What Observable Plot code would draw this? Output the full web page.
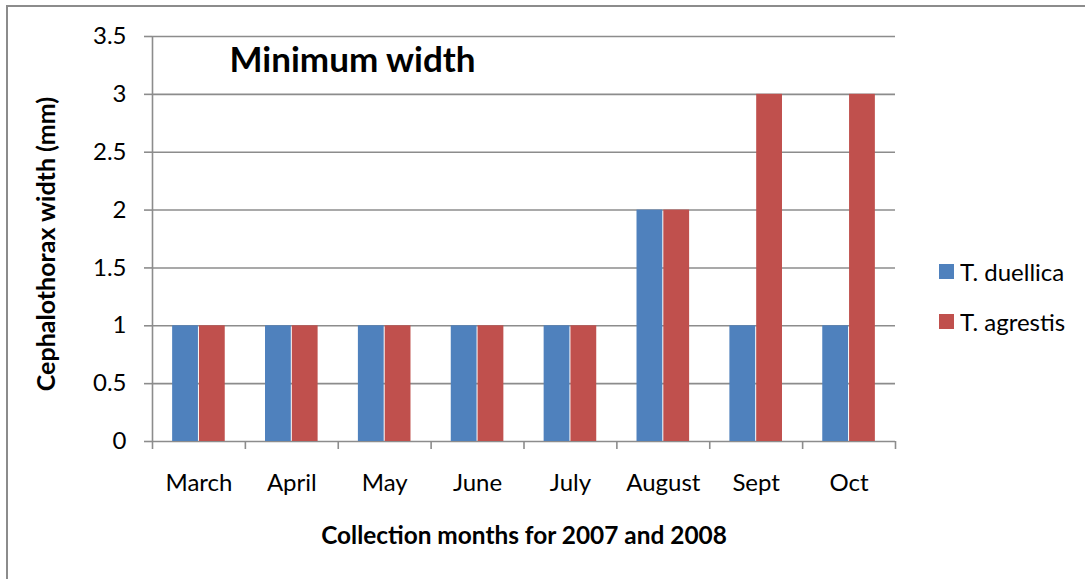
<!DOCTYPE html>
<html>
<head>
<meta charset="utf-8">
<script src="https://cdn.jsdelivr.net/npm/d3@7"></script>
<script src="https://cdn.jsdelivr.net/npm/@observablehq/plot@0.6"></script>
<style>
  html, body { margin: 0; padding: 0; background: #fff; }
  #wrap { position: relative; width: 1085px; height: 579px; overflow: hidden; font-family: Lato, "Open Sans", sans-serif; }
  #border { position: absolute; left: 6px; top: 5px; width: 1200px; height: 700px; border-left: 2px solid #8c8c8c; border-top: 2px solid #8c8c8c; }
  #chart { position: absolute; left: 0; top: 0; }
  #legend { position: absolute; left: 939px; top: 257px; }
</style>
</head>
<body>
<div id="wrap"><div id="border"></div><div id="chart"></div><div id="legend"></div></div>
<script>
const months = ["March", "April", "May", "June", "July", "August", "Sept", "Oct"];
const series = ["T. duellica", "T. agrestis"];
const duellica = [1, 1, 1, 1, 1, 2, 1, 1];
const agrestis = [1, 1, 1, 1, 1, 2, 3, 3];
const colors = ["#4F81BD", "#C0504D"];
const yTicks = [0, 0.5, 1, 1.5, 2, 2.5, 3, 3.5];
const title = "Minimum width";
const yLabel = "Cephalothorax width (mm)";
const xLabel = "Collection months for 2007 and 2008";

const data = months.flatMap((m, i) => [
  {month: m, series: series[0], value: duellica[i]},
  {month: m, series: series[1], value: agrestis[i]}
]);

const W = 1085, H = 579, ML = 152, MR = 190, MT = 36, MB = 138;
const step = (W - ML - MR) / months.length;
const barW = 26.3;
const font = "Lato, 'Open Sans', sans-serif";
const gridColor = "#8c8c8c";

const plot = Plot.plot({
  width: W, height: H,
  marginLeft: ML, marginRight: MR, marginTop: MT, marginBottom: MB,
  style: {fontFamily: font, fontSize: "24px", color: "#000", background: "transparent"},
  x: {domain: months, padding: 0, round: false, label: null},
  y: {domain: [0, 3.5], label: null},
  color: {domain: series, range: colors},
  marks: [
    Plot.ruleY(yTicks, {y: d => d, stroke: gridColor, strokeWidth: 1.6}),
    Plot.barY(data.filter(d => d.series === series[0]), {
      x: "month", y: "value", fill: "series",
      insetLeft: step / 2 - barW, insetRight: step / 2 + 0.5
    }),
    Plot.barY(data.filter(d => d.series === series[1]), {
      x: "month", y: "value", fill: "series",
      insetLeft: step / 2 + 0.5, insetRight: step / 2 - barW
    }),
    Plot.axisY({ticks: yTicks, tickFormat: d => String(d), tickSize: 8, tickPadding: 18, stroke: gridColor, strokeWidth: 1.6, fontSize: 24, label: null}),
    Plot.ruleX([0], {x: null, stroke: gridColor, strokeWidth: 1.6, frameAnchor: "left", dx: -(W - ML - MR) / 2}),
    Plot.ruleX(months, {x: d => d, dx: -step / 2, y1: 0, y2: 0, insetBottom: -8, stroke: gridColor, strokeWidth: 1.6}),
    Plot.ruleX([months[months.length - 1]], {x: d => d, dx: step / 2, y1: 0, y2: 0, insetBottom: -8, stroke: gridColor, strokeWidth: 1.6}),
    Plot.axisX({tickSize: 0, tickPadding: 32, fontSize: 24, label: null}),
    Plot.text([title], {frameAnchor: "top-left", dx: 77, dy: 24, textAnchor: "start", lineAnchor: "middle", fontSize: 35, fontWeight: "bold", fill: "#000"}),
    Plot.text([yLabel], {frameAnchor: "left", dx: -106, dy: 5, rotate: -90, textAnchor: "middle", lineAnchor: "middle", fontSize: 25, fontWeight: "bold", fill: "#000"}),
    Plot.text([xLabel], {frameAnchor: "bottom", dy: 95, textAnchor: "middle", lineAnchor: "middle", fontSize: 24.4, fontWeight: "bold", fill: "#000"})
  ]
});
document.getElementById("chart").appendChild(plot);

const legend = Plot.legend({
  color: {domain: series, range: colors},
  legend: "swatches", columns: 1, swatchSize: 15,
  style: {fontFamily: font, fontSize: "24px", color: "#000"}
});
document.getElementById("legend").appendChild(legend);
legend.querySelectorAll("div").forEach(el => {
  const sw = el.querySelector("svg");
  if (sw && el.children.length <= 2) {
    el.style.height = "28px";
    el.style.marginBottom = "21px";
    el.style.alignItems = "center";
    sw.style.marginRight = "6px";
  }
});
</script>
</body>
</html>
